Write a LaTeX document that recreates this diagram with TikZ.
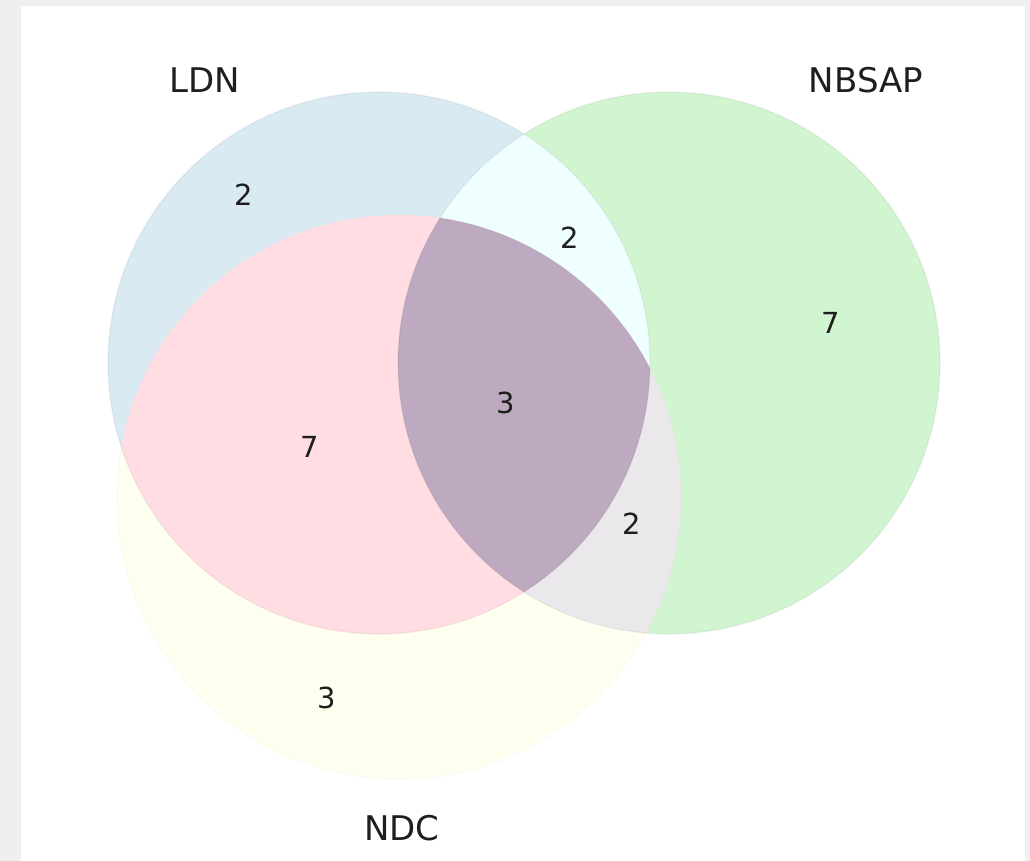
\documentclass[tikz,border=0pt]{standalone}
\usepackage{fontspec}
\setmainfont{DejaVu Sans}
\definecolor{frame}{HTML}{EFEEF0}
\definecolor{ldnonly}{HTML}{D9EAF2}
\definecolor{nbsaponly}{HTML}{D0F5D0}
\definecolor{ndconly}{HTML}{FFFFF0}
\definecolor{ldnnbsap}{HTML}{EFFEFE}
\definecolor{ldnndc}{HTML}{FFDDE3}
\definecolor{nbsapndc}{HTML}{EAE8EA}
\definecolor{allthree}{HTML}{BEAAC0}
\definecolor{ink}{HTML}{1E1E1E}
\begin{document}
\begin{tikzpicture}[x=1pt,y=-1pt,
  setlabel/.style={font=\fontsize{34}{40}\selectfont, text=ink, inner sep=0pt},
  count/.style={font=\fontsize{29}{34}\selectfont, text=ink, inner sep=0pt},
  rim/.style={draw=black, draw opacity=0.045, line width=1.5pt}]
  % page and frame
  \fill[frame] (0,0) rectangle (1030,861);
  \fill[white] (21,6) rectangle (1025,861);
  \useasboundingbox (0,0) rectangle (1030,861);

  % circle geometry
  \def\ldn{(379,363) circle[radius=271]}
  \def\nbsap{(669,363) circle[radius=271]}
  \def\ndc{(399,497) circle[radius=282]}

  % single sets
  \fill[ldnonly] \ldn;
  \fill[nbsaponly] \nbsap;
  \fill[ndconly] \ndc;
  % pairwise overlaps
  \begin{scope}\clip \ldn; \fill[ldnnbsap] \nbsap; \end{scope}
  \begin{scope}\clip \ldn; \fill[ldnndc] \ndc; \end{scope}
  \begin{scope}\clip \nbsap; \fill[nbsapndc] \ndc; \end{scope}
  % triple overlap
  \begin{scope}\clip \ldn; \clip \nbsap; \fill[allthree] \ndc; \end{scope}

  % faint outlines (the NDC rim is tinted so it stays almost invisible on white)
  \draw[rim] \ldn;
  \draw[rim] \nbsap;
  \draw[draw=yellow!40!black, draw opacity=0.025, line width=1.5pt] \ndc;

  % set names
  \node[setlabel] (lLDN) at (205,80) {LDN};
  \node[setlabel] (lNBSAP) at (866,80) {NBSAP};
  \node[setlabel] (lNDC) at (402,828) {NDC};

  % region counts
  \node[count] (c100) at (244,195) {2};
  \node[count] (c110) at (570,238) {2};
  \node[count] (c010) at (831,323) {7};
  \node[count] (c111) at (506,403) {3};
  \node[count] (c101) at (310,447) {7};
  \node[count] (c011) at (632,524) {2};
  \node[count] (c001) at (327,698) {3};
\end{tikzpicture}
\end{document}
